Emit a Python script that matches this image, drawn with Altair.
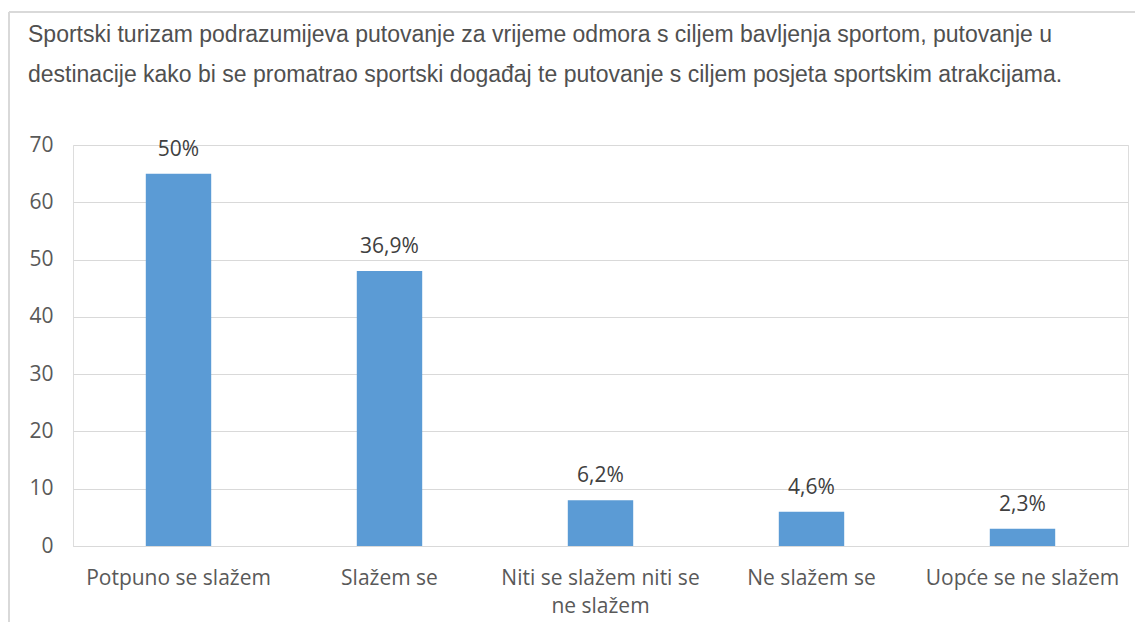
import altair as alt
import pandas as pd

categories = ["Potpuno se slažem", "Slažem se", "Niti se slažem niti se ne slažem",
              "Ne slažem se", "Uopće se ne slažem"]
counts = [65, 48, 8, 6, 3]
pct_labels = ["50%", "36,9%", "6,2%", "4,6%", "2,3%"]
y_ticks = [0, 10, 20, 30, 40, 50, 60, 70]
title_lines = [
    "Sportski turizam podrazumijeva putovanje za vrijeme odmora s ciljem bavljenja sportom, putovanje u",
    "destinacije kako bi se promatrao sportski događaj te putovanje s ciljem posjeta sportskim atrakcijama.",
]

df = pd.DataFrame({"cat": categories, "n": counts, "lab": pct_labels})

W, H = 1055, 401
PL, PT, PR, PB = 65, 137, 7, 76

x_enc = alt.X(
    "cat:N", sort=categories, title=None,
    scale=alt.Scale(paddingInner=0.69, paddingOuter=0.345),
    axis=alt.Axis(
        labelAngle=0, ticks=False, domain=True, domainColor="#d9d9d9", domainWidth=1,
        labelFont="Open Sans", labelFontSize=21, labelColor="#595959",
        labelPadding=21, labelLineHeight=28, labelLimit=300,
        labelExpr="datum.value == 'Niti se slažem niti se ne slažem' ? ['Niti se slažem niti se', 'ne slažem'] : datum.value",
    ),
)
y_enc = alt.Y(
    "n:Q", title=None, scale=alt.Scale(domain=[0, 70], nice=False),
    axis=alt.Axis(
        values=y_ticks, ticks=False, domain=False, grid=True, gridColor="#d9d9d9",
        labelFont="Open Sans", labelFontSize=21, labelColor="#595959", labelPadding=20,
    ),
)

bars = alt.Chart(df).mark_bar(color="#5B9BD5").encode(x=x_enc, y=y_enc)
labels = alt.Chart(df).mark_text(
    baseline="alphabetic", dy=-18, font="Open Sans", fontSize=21, color="#404040"
).encode(x=alt.X("cat:N", sort=categories), y="n:Q", text="lab:N")

frame_left = alt.Chart(df).mark_rule(color="#d9d9d9", strokeWidth=1.5).encode(
    x=alt.value(-PL + 1), y=alt.value(-PT + 4), y2=alt.value(H + PB)
)
frame_top = alt.Chart(df).mark_rule(color="#d9d9d9", strokeWidth=1.5).encode(
    x=alt.value(-PL + 1), x2=alt.value(W + PR), y=alt.value(-PT + 4)
)

chart = alt.layer(bars, labels, frame_left, frame_top).properties(
    width=W, height=H,
    padding={"left": PL, "top": PT, "right": PR, "bottom": PB},
    autosize=alt.AutoSizeParams(type="none"),
    title=alt.TitleParams(
        text=title_lines, anchor="start", frame="group", dx=-45, dy=76,
        font="Liberation Sans", fontSize=23, fontWeight="normal", color="#505050",
        lineHeight=40, offset=0,
    ),
).configure_view(stroke=None).configure(background="white")

chart.save("out.html", embed_options={"renderer": "svg", "actions": False})
